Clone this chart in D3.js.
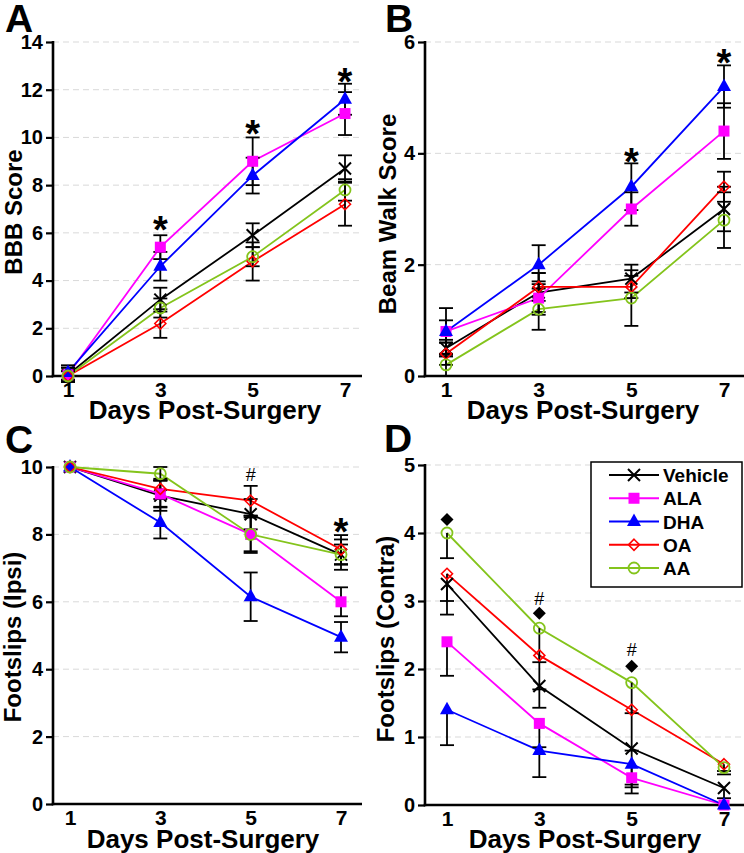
<!DOCTYPE html>
<html><head><meta charset="utf-8">
<script src="https://cdn.jsdelivr.net/npm/d3@7"></script>
<style>body{margin:0;background:#fff} svg{display:block}</style>
</head><body><svg id="c" width="744" height="853"></svg>
<script>
// ---------------- DATA ----------------
const days = [1, 3, 5, 7];
const seriesNames = ["Vehicle", "ALA", "DHA", "OA", "AA"];
const seriesColors = ["#000000", "#ff00ff", "#0000ff", "#ff0000", "#84c41c"];
const seriesMarkers = ["cross", "square", "triangle", "diamond", "circle"];

// Panel A: BBB Score (rows follow seriesNames)
const bbbMeans = [
  [0.05, 3.2, 5.9, 8.7],
  [0.05, 5.4, 9.0, 11.0],
  [0.15, 4.6, 8.4, 11.6],
  [0.0, 2.2, 4.8, 7.2],
  [0.0, 2.85, 5.0, 7.8]
];
const bbbErrs = [
  [0.3, 0.5, 0.5, 0.55],
  [0.3, 0.5, 1.0, 0.9],
  [0.3, 0.6, 0.75, 0.65],
  [0.2, 0.6, 0.8, 0.9],
  [0.2, 0.4, 0.4, 0.45]
];
const bbbTicks = [0, 2, 4, 6, 8, 10, 12, 14];
const bbbStars = [[3, 6.45], [5, 10.46], [7, 12.67]];

// Panel B: Beam Walk Score
const beamMeans = [
  [0.5, 1.5, 1.75, 3.0],
  [0.8, 1.4, 3.0, 4.4],
  [0.8, 2.0, 3.4, 5.2],
  [0.4, 1.6, 1.6, 3.4],
  [0.2, 1.2, 1.4, 2.8]
];
const beamErrs = [
  [0.15, 0.35, 0.25, 0.4],
  [0.2, 0.3, 0.3, 0.5],
  [0.42, 0.35, 0.42, 0.38],
  [0.2, 0.25, 0.2, 0.27],
  [0.2, 0.37, 0.5, 0.5]
];
const beamTicks = [0, 2, 4, 6];
const beamStars = [[5, 3.98], [7, 5.76]];

// Panel C: Footslips (Ipsi)
const ipsiMeans = [
  [10, 9.15, 8.6, 7.4],
  [10, 9.2, 8.0, 6.0],
  [10, 8.35, 6.15, 4.95],
  [10, 9.35, 9.0, 7.55],
  [10, 9.8, 8.0, 7.4]
];
const ipsiErrs = [
  [0, 0.45, 0.45, 0.45],
  [0, 0.4, 0.55, 0.43],
  [0, 0.47, 0.72, 0.45],
  [0, 0.3, 0.44, 0.43],
  [0, 0.2, 0.5, 0.3]
];
const ipsiTicks = [0, 2, 4, 6, 8, 10];
const ipsiStars = [[7, 8.32]];
const ipsiHashes = [[5, 9.79]];

// Panel D: Footslips (Contra) (error bars drawn downward)
const contraMeans = [
  [3.25, 1.75, 0.83, 0.25],
  [2.4, 1.2, 0.4, 0.0],
  [1.4, 0.8, 0.6, 0.0],
  [3.4, 2.2, 1.4, 0.6],
  [4.0, 2.6, 1.8, 0.55]
];
const contraErrs = [
  [0.45, 0.32, 0.57, 0.15],
  [0.5, 0.35, 0.23, 0.0],
  [0.52, 0.39, 0.3, 0.0],
  [0.4, 0.1, 0.05, 0.1],
  [0.37, 0.9, 1.0, 0.1]
];
const contraTicks = [0, 1, 2, 3, 4, 5];
const contraDiamonds = [[1, 4.2], [3, 2.82], [5, 2.04]];
const contraHashes = [[3, 3.03], [5, 2.29]];

// ---------------- DRAWING ----------------
const FONT = "'Liberation Sans', Arial, Helvetica, sans-serif";
const svg = d3.select("#c");
const fmt = d3.format("d");

function drawMarker(g, type, color, cx, cy) {
  if (type === "cross") {
    const s = 6;
    g.append("path").attr("d", `M${cx-s},${cy-s}L${cx+s},${cy+s}M${cx-s},${cy+s}L${cx+s},${cy-s}`)
      .attr("stroke", color).attr("stroke-width", 2).attr("fill", "none");
  } else if (type === "square") {
    g.append("rect").attr("x", cx-5.5).attr("y", cy-5.5).attr("width", 11).attr("height", 11).attr("fill", color);
  } else if (type === "triangle") {
    g.append("path").attr("d", `M${cx},${cy-8}L${cx+7},${cy+4.5}L${cx-7},${cy+4.5}Z`).attr("fill", color);
  } else if (type === "diamond") {
    const s = 5.5;
    g.append("path").attr("d", `M${cx},${cy-s}L${cx+s},${cy}L${cx},${cy+s}L${cx-s},${cy}Z`)
      .attr("fill", "none").attr("stroke", color).attr("stroke-width", 1.6);
  } else if (type === "circle") {
    g.append("circle").attr("cx", cx).attr("cy", cy).attr("r", 5.5)
      .attr("fill", "none").attr("stroke", color).attr("stroke-width", 1.8);
  }
}

function drawPanel(cfg, means, errs, errDir, ticks, stars, hashes, diamonds) {
  const g = svg.append("g");
  const y = d3.scaleLinear().domain([0, cfg.ymax]).range([cfg.y0, cfg.yTop]);
  const x = d3.scaleLinear().domain([1, 7]).range([cfg.x1, cfg.x7]);

  // grid
  g.selectAll(".grid").data(ticks.filter(t => t > 0)).join("line")
    .attr("x1", cfg.ax).attr("x2", cfg.xEnd)
    .attr("y1", d => y(d)).attr("y2", d => y(d))
    .attr("stroke", "#d9d9d9").attr("stroke-width", 1).attr("stroke-dasharray", "6,4");

  // y axis
  const ya = g.append("g").attr("transform", `translate(${cfg.ax},0)`)
    .call(d3.axisLeft(y).tickValues(ticks).tickFormat(fmt).tickSize(7).tickSizeOuter(0).tickPadding(3));
  ya.select(".domain").remove();
  ya.selectAll(".tick line").attr("stroke", "#000").attr("stroke-width", 2.2);
  ya.selectAll(".tick text").attr("font-family", FONT).attr("font-size", 20).attr("font-weight", "bold").attr("fill", "#000");
  g.append("line").attr("x1", cfg.ax).attr("x2", cfg.ax).attr("y1", y(cfg.ymax) - 1).attr("y2", cfg.y0 + 1.2)
    .attr("stroke", "#000").attr("stroke-width", 2.6);

  // x axis
  const xa = g.append("g").attr("transform", `translate(0,${cfg.y0})`)
    .call(d3.axisBottom(x).tickValues(days).tickFormat(fmt).tickSize(0).tickPadding(6));
  xa.select(".domain").remove();
  xa.selectAll(".tick text").attr("font-family", FONT).attr("font-size", 21).attr("font-weight", "bold").attr("fill", "#000");
  g.append("line").attr("x1", cfg.ax - 1.3).attr("x2", cfg.xEnd).attr("y1", cfg.y0).attr("y2", cfg.y0)
    .attr("stroke", "#000").attr("stroke-width", 2.6);

  // lines
  const line = d3.line().x((d, i) => x(days[i])).y(d => y(d));
  means.forEach((m, si) => {
    g.append("path").attr("d", line(m)).attr("fill", "none")
      .attr("stroke", seriesColors[si]).attr("stroke-width", 1.8);
  });

  // error bars
  means.forEach((m, si) => {
    m.forEach((v, j) => {
      const e = errs[si][j];
      if (e <= 0) return;
      const cx = x(days[j]);
      const top = errDir === "down" ? v : v + e;
      const bot = v - e;
      g.append("line").attr("x1", cx).attr("x2", cx).attr("y1", y(top)).attr("y2", y(bot))
        .attr("stroke", "#000").attr("stroke-width", 1.8);
      const caps = errDir === "down" ? [bot] : [top, bot];
      caps.forEach(c => {
        g.append("line").attr("x1", cx - 7).attr("x2", cx + 7).attr("y1", y(c)).attr("y2", y(c))
          .attr("stroke", "#000").attr("stroke-width", 1.8);
      });
    });
  });

  // markers
  means.forEach((m, si) => {
    m.forEach((v, j) => drawMarker(g, seriesMarkers[si], seriesColors[si], x(days[j]), y(v)));
  });

  // annotations
  (stars || []).forEach(([d, v]) => {
    g.append("text").attr("x", x(d)).attr("y", y(v) + 21).attr("text-anchor", "middle")
      .attr("font-family", FONT).attr("font-size", 38).attr("font-weight", "bold").text("*");
  });
  (hashes || []).forEach(([d, v]) => {
    g.append("text").attr("x", x(d)).attr("y", y(v) + 6.5).attr("text-anchor", "middle")
      .attr("font-family", FONT).attr("font-size", 18).text("#");
  });
  (diamonds || []).forEach(([d, v]) => {
    const cx = x(d), cy = y(v), s = 6.5;
    g.append("path").attr("d", `M${cx},${cy-s}L${cx+s},${cy}L${cx},${cy+s}L${cx-s},${cy}Z`).attr("fill", "#000");
  });

  // titles
  g.append("text").attr("x", cfg.labelX).attr("y", cfg.labelY)
    .attr("font-family", FONT).attr("font-size", 39).attr("font-weight", "bold").text(cfg.label);
  g.append("text").attr("transform", `translate(${cfg.ytX},${cfg.ytY}) rotate(-90)`)
    .attr("text-anchor", "middle").attr("font-family", FONT).attr("font-size", 24).attr("font-weight", "bold")
    .text(cfg.ytitle);
  g.append("text").attr("x", cfg.xtX).attr("y", cfg.xtY).attr("text-anchor", "middle")
    .attr("font-family", FONT).attr("font-size", 26).attr("font-weight", "bold").text("Days Post-Surgery");
  return { g, x, y };
}

drawPanel({ax:53, xEnd:362, y0:376, yTop:42, ymax:14, x1:68, x7:345,
  label:"A", labelX:5, labelY:32, ytitle:"BBB Score", ytX:22, ytY:212, xtX:205, xtY:419},
  bbbMeans, bbbErrs, "both", bbbTicks, bbbStars, [], []);

drawPanel({ax:425, xEnd:744, y0:376, yTop:42, ymax:6, x1:446, x7:724,
  label:"B", labelX:385, labelY:32, ytitle:"Beam Walk Score", ytX:396, ytY:214, xtX:583, xtY:419},
  beamMeans, beamErrs, "both", beamTicks, beamStars, [], []);

drawPanel({ax:53, xEnd:362, y0:804, yTop:467, ymax:10, x1:70, x7:341,
  label:"C", labelX:5, labelY:453, ytitle:"Footslips (Ipsi)", ytX:21, ytY:637, xtX:203, xtY:848},
  ipsiMeans, ipsiErrs, "both", ipsiTicks, ipsiStars, ipsiHashes, []);

drawPanel({ax:425, xEnd:744, y0:805, yTop:465, ymax:5, x1:447, x7:724,
  label:"D", labelX:384, labelY:452, ytitle:"Footslips (Contra)", ytX:394, ytY:639, xtX:585, xtY:848},
  contraMeans, contraErrs, "down", contraTicks, [], contraHashes, contraDiamonds);

// legend (panel D)
const leg = svg.append("g");
leg.append("rect").attr("x", 591).attr("y", 462).attr("width", 151).attr("height", 125)
  .attr("fill", "#fff").attr("stroke", "#000").attr("stroke-width", 1.5);
const legY = d3.scalePoint().domain(seriesNames).range([475, 568]);
seriesNames.forEach((n, i) => {
  const ly = legY(n);
  leg.append("line").attr("x1", 609).attr("x2", 659).attr("y1", ly).attr("y2", ly)
    .attr("stroke", seriesColors[i]).attr("stroke-width", 1.8);
  drawMarker(leg, seriesMarkers[i], seriesColors[i], 634, ly);
  leg.append("text").attr("x", 663).attr("y", ly + 7).attr("font-family", FONT)
    .attr("font-size", 19).attr("font-weight", "bold").text(n);
});
</script></body></html>
